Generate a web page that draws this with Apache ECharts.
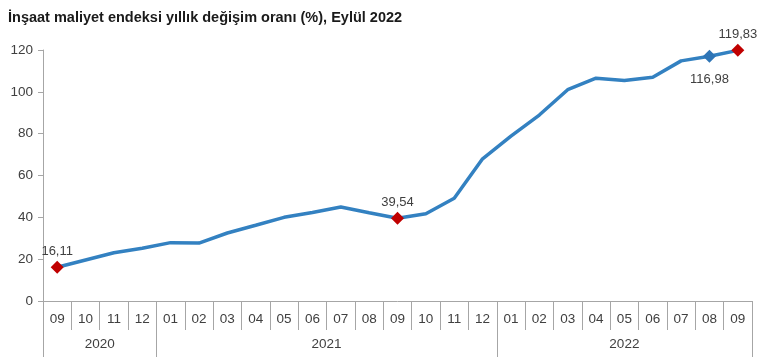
<!DOCTYPE html>
<html><head><meta charset="utf-8">
<script src="https://cdn.jsdelivr.net/npm/echarts@6/dist/echarts.min.js"></script>
<style>html,body{margin:0;padding:0;background:#fff}#c{width:770px;height:358px}</style>
</head><body><div id="c"></div>
<script>
var title = 'İnşaat maliyet endeksi yıllık değişim oranı (%), Eylül 2022';
var months = ['09','10','11','12','01','02','03','04','05','06','07','08','09','10','11','12','01','02','03','04','05','06','07','08','09'];
var years = ['2020','2021','2022'];
var yearMonthCounts = [4, 12, 9];
var values = [16.11, 19.6, 23.1, 25.2, 27.9, 27.7, 32.5, 36.2, 40.0, 42.3, 44.9, 42.2, 39.54, 41.7, 49.1, 68.0, 78.8, 88.9, 101.0, 106.5, 105.4, 107.0, 114.8, 116.98, 119.83];
var yTicks = [0, 20, 40, 60, 80, 100, 120];
var redIdx = [0, 12, 24];
var blueIdx = [23];
var labelBelow = [23];

var red = '#C00000', blue = '#2E75B6', lineCol = '#3381C1', txt = '#404040', axisCol = '#A6A6A6';
var ff = 'Liberation Sans, Arial';

var data = values.map(function (v, i) {
  var isRed = redIdx.indexOf(i) >= 0, isBlue = blueIdx.indexOf(i) >= 0;
  if (!isRed && !isBlue) return { value: v, symbol: 'none' };
  return {
    value: v, symbol: 'diamond', symbolSize: 13,
    itemStyle: { color: isRed ? red : blue },
    label: {
      show: true, position: labelBelow.indexOf(i) >= 0 ? 'bottom' : 'top',
      distance: labelBelow.indexOf(i) >= 0 ? 10 : 3,
      formatter: String(v.toFixed(2)).replace('.', ','),
      color: txt, fontSize: 13, fontFamily: ff
    }
  };
});

// half-month resolution axis for year group labels
var halfCats = [], tickIdx = [0], acc = 0, yearPos = {};
years.forEach(function (y, k) {
  yearPos[acc + yearMonthCounts[k]] = y;
  acc += yearMonthCounts[k] * 2;
  tickIdx.push(acc);
});
for (var i = 0; i <= acc; i++) halfCats.push(yearPos[i] || '');

var chart = echarts.init(document.getElementById('c'), null, { renderer: 'canvas' });
chart.setOption({
  animation: false,
  title: { text: title, left: 3, top: 5, textStyle: { fontSize: 14.5, fontWeight: 'bold', color: '#1a1a1a', fontFamily: ff } },
  grid: { left: 43, right: 18, top: 50, bottom: 57 },
  xAxis: [{
    type: 'category', data: months, boundaryGap: true, position: 'bottom',
    axisLine: { show: true, lineStyle: { color: axisCol, width: 1 } },
    axisTick: { show: true, interval: 0, length: 29, lineStyle: { color: axisCol } },
    axisLabel: { interval: 0, margin: 11, color: txt, fontSize: 13.5, fontFamily: ff }
  }, {
    type: 'category', data: halfCats, boundaryGap: false, position: 'bottom',
    axisLine: { show: false },
    axisTick: { show: true, length: 56, lineStyle: { color: axisCol },
      interval: function (idx) { return tickIdx.indexOf(idx) >= 0; } },
    axisLabel: { interval: 0, margin: 36, color: txt, fontSize: 13.5, fontFamily: ff }
  }],
  yAxis: {
    type: 'value', min: yTicks[0], max: yTicks[yTicks.length - 1], interval: 20,
    axisLine: { show: true, lineStyle: { color: axisCol } },
    axisTick: { show: true, length: 5, lineStyle: { color: axisCol } },
    splitLine: { show: false },
    axisLabel: { color: txt, fontSize: 13.5, margin: 10, fontFamily: ff }
  },
  series: [{
    type: 'line', data: data, xAxisIndex: 0, symbol: 'none', showSymbol: true,
    lineStyle: { color: lineCol, width: 3.5 }, itemStyle: { color: lineCol },
    z: 3
  }]
});
</script></body></html>
